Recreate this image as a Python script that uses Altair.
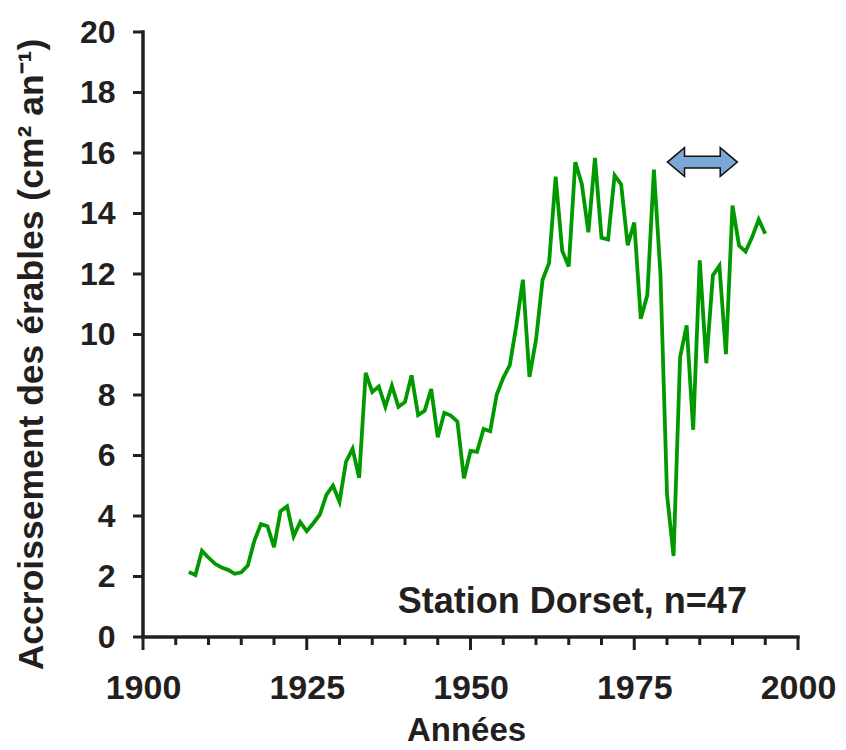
import altair as alt
import pandas as pd

years = list(range(1907, 1996))
growth = [2.15, 2.05, 2.85,
          2.62, 2.42, 2.3, 2.22, 2.09, 2.14, 2.36, 3.18, 3.73, 3.66,
          2.97, 4.16, 4.32, 3.33, 3.8, 3.5, 3.76, 4.05, 4.7, 5.0,
          4.47, 5.8, 6.22, 5.26, 8.73, 8.1, 8.28, 7.61, 8.31, 7.61,
          7.77, 8.65, 7.34, 7.48, 8.2, 6.6, 7.41, 7.32, 7.12, 5.25,
          6.15, 6.12, 6.88, 6.8, 8.01, 8.57, 8.99, 10.3, 11.81, 8.6,
          9.82, 11.8, 12.37, 15.22, 12.77, 12.25, 15.7, 14.97, 13.38, 15.84,
          13.2, 13.14, 15.26, 14.96, 12.95, 13.7, 10.52, 11.31, 15.45, 12.0,
          4.72, 2.68, 9.25, 10.3, 6.85, 12.45, 9.05, 11.95, 12.27, 9.35,
          14.26, 12.94, 12.74, 13.22, 13.8, 13.33]

x_domain = [1900, 2000]
y_domain = [0, 20]
x_ticks = list(range(1900, 2001, 5))
x_major = [v for v in x_ticks if v % 25 == 0]
x_minor = [v for v in x_ticks if v % 25 != 0]
y_ticks = list(range(0, 21, 2))

arrow_year = [1985.4]
arrow_value = [15.7]

note_year = [1992.2]
note_value = [0.8]
note_text = ["Station Dorset, n=47"]

FONT = "Liberation Sans, Arial, sans-serif"
INK = "#231f20"
W, H = 655, 605

df = pd.DataFrame({"year": years, "growth": growth})
df_arrow = pd.DataFrame({"year": arrow_year, "growth": arrow_value})
df_note = pd.DataFrame({"year": note_year, "growth": note_value, "text": note_text})
df_xline = pd.DataFrame({"year": x_domain, "growth": [y_domain[0], y_domain[0]]})
df_yline = pd.DataFrame({"year": [x_domain[0], x_domain[0]], "growth": y_domain})
df_ytk = pd.DataFrame({"year": [x_domain[0]] * len(y_ticks), "growth": y_ticks})
df_xmaj = pd.DataFrame({"year": x_major, "growth": [y_domain[0]] * len(x_major)})
df_xmin = pd.DataFrame({"year": x_minor, "growth": [y_domain[0]] * len(x_minor)})

x_scale = alt.Scale(domain=x_domain, nice=False, zero=False)
y_scale = alt.Scale(domain=y_domain, nice=False)

common = dict(
    domain=False, ticks=True, tickOpacity=0,
    labelFont=FONT, labelFontWeight="bold", labelColor=INK,
    titleFont=FONT, titleFontWeight="bold", titleColor=INK,
    labelFlush=False, labelOverlap=False, grid=False,
)

x_axis = alt.Axis(
    values=x_ticks,
    format="d",
    labelExpr="datum.value % 25 === 0 ? datum.label : ''",
    tickSize=8,
    labelPadding=26,
    labelFontSize=34,
    title="Années",
    titleFontSize=33,
    titleX=323,
    titleY=103,
    titleBaseline="alphabetic",
    titleAlign="center",
    **common,
)

y_axis = alt.Axis(
    values=y_ticks,
    tickSize=10,
    labelPadding=18,
    labelFontSize=32,
    title="Accroissement des érables (cm² an⁻¹)",
    titleFontSize=35.5,
    titleAngle=270,
    titleX=-101,
    titleY=322,
    titleBaseline="alphabetic",
    titleAlign="center",
    **common,
)

line = alt.Chart(df).mark_line(color="#009900", strokeWidth=3.8)

arrow_path = ("M -1 0 L -0.51 -0.41 L -0.51 -0.17 L 0.51 -0.17 L 0.51 -0.41 "
              "L 1 0 L 0.51 0.41 L 0.51 0.17 L -0.51 0.17 L -0.51 0.41 Z")

arrow = alt.Chart(df_arrow).mark_point(
    shape=arrow_path, size=4900, filled=True, fill="#7ba7d7",
    stroke="#111111", strokeWidth=1.5, opacity=1, fillOpacity=1, strokeOpacity=1,
)

note = alt.Chart(df_note).mark_text(
    align="right", baseline="alphabetic", font=FONT, fontSize=36,
    fontWeight="bold", color=INK,
).encode(text="text:N")

# axis lines, drawn as lines through the scales
x_axis_line = alt.Chart(df_xline).mark_line(color=INK, strokeWidth=3.5, strokeCap="square")
y_axis_line = alt.Chart(df_yline).mark_line(color=INK, strokeWidth=3.5, strokeCap="square")

# tick marks, drawn as stroked symbols placed by the scales
y_tick_marks = alt.Chart(df_ytk).mark_point(
    shape="M -2 0 L 0 0", size=100, filled=False, color=INK,
    strokeWidth=3, opacity=1, strokeOpacity=1,
)
x_major_marks = alt.Chart(df_xmaj).mark_point(
    shape="M 0 0 L 0 2", size=169, filled=False, color=INK,
    strokeWidth=3, opacity=1, strokeOpacity=1,
)
x_minor_marks = alt.Chart(df_xmin).mark_point(
    shape="M 0 0 L 0 2", size=64, filled=False, color=INK,
    strokeWidth=3, opacity=1, strokeOpacity=1,
)

chart = alt.layer(
    line, arrow, note, x_axis_line, y_axis_line,
    y_tick_marks, x_major_marks, x_minor_marks
).encode(
    x=alt.X("year:Q", scale=x_scale, axis=x_axis),
    y=alt.Y("growth:Q", scale=y_scale, axis=y_axis),
).properties(
    width=W,
    height=H,
    autosize=alt.AutoSizeParams(type="none"),
    padding={"left": 135, "top": 24, "right": 40, "bottom": 110},
).configure_view(stroke=None)

chart.save("out.html", embed_options={"renderer": "svg", "actions": False})
